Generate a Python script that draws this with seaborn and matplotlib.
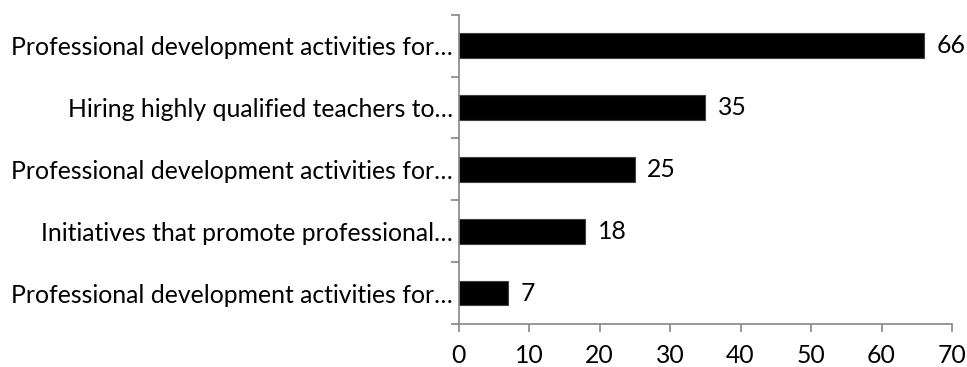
import matplotlib
matplotlib.use("Agg")
import matplotlib.pyplot as plt
import seaborn as sns
import pandas as pd
import numpy as np

categories = [
    "Professional development activities for…",
    "Hiring highly qualified teachers to…",
    "Professional development activities for… ",
    "Initiatives that promote professional…",
    "Professional development activities for…  ",
]
values = [66, 35, 25, 18, 7]
xticks = [0, 10, 20, 30, 40, 50, 60, 70]

sns.set_theme(style="white")
plt.rcParams['font.family'] = ['Lato', 'DejaVu Sans']

df = pd.DataFrame({"cat": categories, "val": values})

fig = plt.figure(figsize=(9.67, 3.67), dpi=100)
ax = fig.add_axes([458.5/967, 1-324/367, (952-458.5)/967, (324-14.7)/367])
sns.barplot(data=df, x="val", y="cat", orient="h", color="black", width=0.4,
            edgecolor="#404040", linewidth=0.8, ax=ax, saturation=1)

fs = 17.8
ax.set_xlim(0, 70)
ax.set_ylim(len(categories)-0.5, -0.5)
ax.set_xticks(xticks)
ax.set_xticklabels([str(t) for t in xticks], fontsize=fs, color="black")
ax.set_yticks(range(len(categories)))
ax.set_yticklabels([c.strip() for c in categories], fontsize=fs, color="black")
ax.set_xlabel("")
ax.set_ylabel("")

# category boundary ticks (Excel style)
ax.set_yticks(np.arange(-0.5, len(categories), 1.0), minor=True)
ax.tick_params(axis="y", which="major", length=0, pad=4)
ax.tick_params(axis="y", which="minor", length=6, width=1.2, color="#868686", direction="out", left=True)
ax.tick_params(axis="x", which="major", length=6, width=1.2, color="#868686", direction="out", bottom=True, pad=8.5)

for s in ["top", "right"]:
    ax.spines[s].set_visible(False)
for s in ["left", "bottom"]:
    ax.spines[s].set_color("#868686")
    ax.spines[s].set_linewidth(1.2)

for cont in ax.containers:
    ax.bar_label(cont, labels=[str(v) for v in values], padding=9, fontsize=fs, color="black")

fig.savefig("out.png", dpi=100)
